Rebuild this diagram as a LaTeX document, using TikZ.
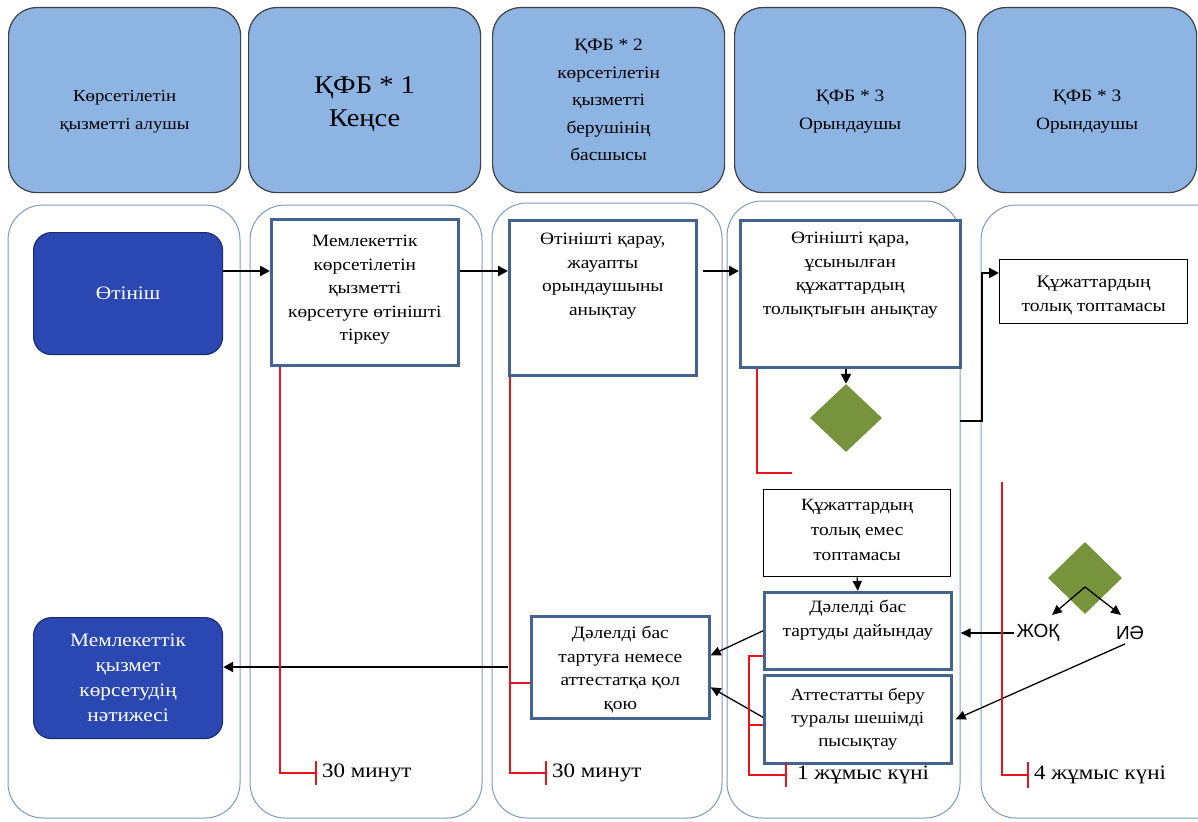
\documentclass[tikz,border=0pt]{standalone}
\usepackage{fontspec}
\setmainfont{Liberation Serif}[FakeStretch=1.12]
\newfontfamily\lsans{Liberation Sans}
\usetikzlibrary{shapes.geometric,arrows.meta}
\definecolor{hdrblue}{HTML}{8EB4E3}
\definecolor{laneblue}{HTML}{7D9AC2}
\definecolor{boxblue}{HTML}{44648F}
\definecolor{navyfill}{HTML}{2B48B2}
\definecolor{navyedge}{HTML}{1C2C6B}
\definecolor{dgreen}{HTML}{77933C}
\definecolor{tred}{HTML}{E8141B}
\tikzset{
  header/.style={draw=black!75, line width=1.2pt, fill=hdrblue, rounded corners=28pt,
    anchor=north west, inner sep=0pt},
  hdrtext/.style={align=center, inner sep=0pt, font=\fontsize{17.3}{27.5}\selectfont},
  lane/.style={draw=laneblue, line width=1pt, rounded corners=35pt},
  procbox/.style={draw=boxblue, line width=2.6pt, fill=white, anchor=north west, inner sep=0pt},
  plainbox/.style={draw=black, line width=1.3pt, fill=white, anchor=north west, inner sep=0pt},
  boxtext/.style={align=center, inner sep=0pt, font=\fontsize{17.3}{23.5}\selectfont},
  startbox/.style={fill=navyfill, draw=navyedge, line width=1.2pt, rounded corners=18pt,
    text=white, anchor=north west, align=center, inner sep=0pt,
    font=\fontsize{19}{25}\selectfont},
  decision/.style={diamond, fill=dgreen, inner sep=0pt},
  flow/.style={-{Triangle[length=10pt,width=10pt]}, line width=2.4pt},
  thinflow/.style={-{Triangle[length=10pt,width=9pt]}, line width=1.3pt},
  tl/.style={draw=tred, line width=2.2pt},
  tltext/.style={anchor=west, inner sep=0pt, font=\fontsize{20.5}{22}\selectfont},
  yn/.style={inner sep=2pt, font=\lsans\fontsize{19}{21}\selectfont}
}
\begin{document}
\begin{tikzpicture}[x=1pt,y=-1pt]
\clip (0,0) rectangle (1198,821);
\fill[white] (0,0) rectangle (1198,821);

% headers
\node[header, minimum width=232pt, minimum height=185pt,
  label={[hdrtext, font=\fontsize{16.8}{28}\selectfont, yshift=-12pt]center:{Көрсетілетін\\қызметті алушы}}]
  (h1) at (8,7) {};
\node[header, minimum width=232pt, minimum height=185pt,
  label={[hdrtext, font=\fontsize{25.5}{33}\selectfont, yshift=-4pt]center:{ҚФБ * 1\\Кеңсе}}]
  (h2) at (248,7) {};
\node[header, minimum width=232pt, minimum height=185pt,
  label={[hdrtext]center:{ҚФБ * 2\\көрсетілетін\\қызметті\\берушінің\\басшысы}}]
  (h3) at (492,7) {};
\node[header, minimum width=231pt, minimum height=185pt,
  label={[hdrtext, font=\fontsize{17.3}{28}\selectfont, yshift=-12pt]center:{ҚФБ * 3\\Орындаушы}}]
  (h4) at (734,7) {};
\node[header, minimum width=219pt, minimum height=185pt,
  label={[hdrtext, font=\fontsize{17.3}{28}\selectfont, yshift=-12pt]center:{ҚФБ * 3\\Орындаушы}}]
  (h5) at (977,7) {};

% lanes
\draw[lane] (8,205) rectangle (240,818);
\draw[lane] (250,205) rectangle (482,818);
\draw[lane] (492,203) rectangle (722,818);
\draw[lane] (727,201) rectangle (960,818);
\draw[lane] (981,205) rectangle (1250,818);

% nodes
\node[startbox, minimum width=189pt, minimum height=122pt] (start) at (33,232) {Өтініш};
\node[startbox, minimum width=189pt, minimum height=121pt] (res) at (33,617)
  {Мемлекеттік\\қызмет\\көрсетудің\\нәтижесі};

\node[procbox, minimum width=187pt, minimum height=146pt,
  label={[boxtext, anchor=north, yshift=-17pt]north:{Мемлекеттік\\көрсетілетін\\қызметті\\көрсетуге өтінішті\\тіркеу}}]
  (A) at (270,218) {};
\node[procbox, minimum width=187pt, minimum height=155pt,
  label={[boxtext, anchor=north, yshift=-14pt]north:{Өтінішті қарау,\\жауапты\\орындаушыны\\анықтау}}]
  (B) at (508,219) {};
\node[procbox, minimum width=220pt, minimum height=147pt,
  label={[boxtext, anchor=north, yshift=-13pt]north:{Өтінішті қара,\\ұсынылған\\құжаттардың\\толықтығын анықтау}}]
  (C) at (739,219) {};
\node[plainbox, minimum width=188pt, minimum height=64pt,
  label={[boxtext, font=\fontsize{17.5}{23.5}\selectfont, yshift=-4pt]center:{Құжаттардың\\толық топтамасы}}]
  (D) at (999,259) {};
\node[decision, minimum width=72pt, minimum height=68pt] (dia1) at (846,418) {};
\node[plainbox, minimum width=187pt, minimum height=87pt,
  label={[boxtext, font=\fontsize{17.2}{25}\selectfont, yshift=3pt]center:{Құжаттардың\\толық емес\\топтамасы}}]
  (E) at (763,489) {};
\node[procbox, minimum width=187pt, minimum height=77pt,
  label={[boxtext, anchor=north, yshift=-9pt]north:{Дәлелді бас\\тартуды дайындау}}]
  (F) at (763,591) {};
\node[procbox, minimum width=187pt, minimum height=88pt,
  label={[boxtext, font=\fontsize{17}{23}\selectfont]center:{Аттестатты беру\\туралы шешімді\\пысықтау}}]
  (G) at (763,674) {};
\node[procbox, minimum width=178pt, minimum height=102pt,
  label={[boxtext, anchor=north, yshift=-11pt]north:{Дәлелді бас\\тартуға немесе\\аттестатқа қол\\қою}}]
  (H) at (530,615) {};
\node[decision, minimum width=74pt, minimum height=72pt] (dia2) at (1085,578) {};
\node[yn] (no) at (1038,633) {ЖОҚ};
\node[yn] (yes) at (1130,633) {ИӘ};

% helper coordinates
\coordinate (y1) at (0,271);
\coordinate (j1) at (960,421);
\coordinate (bend) at (982,273);
\coordinate (j2) at (508,667);

% connectors
\draw[flow] (start.east |- y1) -- (A.west |- y1);
\draw[flow] (A.east |- y1) -- (B.west |- y1);
\draw[flow] ([xshift=5pt]B.east |- y1) -- (C.west |- y1);
\draw[flow] (dia1.north |- C.south) -- (dia1.north);
\draw[flow] (j1) -| (bend) -- (D.west |- bend);
\draw[thinflow] (E.south) -- (F.north);
\draw[thinflow] ([yshift=-9pt]dia2.center) -- (1052,615);
\draw[thinflow] ([yshift=-9pt]dia2.center) -- (1121,615);
\draw[thinflow] (no.west) -- ([xshift=8pt]F.east |- no.west);
\draw[thinflow] ([xshift=-5pt,yshift=-2pt]yes.south) -- ([xshift=3pt]G.east);
\draw[thinflow] (F.west) -- ([yshift=12pt]H.east);
\draw[thinflow] ([yshift=2pt]G.west) -- ([yshift=-20pt]H.east);
\draw[flow] (j2) -- (res.east |- j2);

% time lines
\draw[tl] ([xshift=10pt]A.south west) -- (280,773) -- (316,773);
\draw[tl] (316,761) -- (316,785);
\node[tltext] (t1) at (322,773) {30 минут};

\draw[tl] ([xshift=2pt]B.south west) -- (510,773) -- (546,773);
\draw[tl] (546,761) -- (546,785);
\draw[tl] (510,683) -- (H.west |- 510,683);
\node[tltext] (t2) at (552,773) {30 минут};

\draw[tl] ([xshift=18pt]C.south west) -- (757,473) -- (792,473);

\draw[tl] (763,656) -- (749,656) -- (749,775) -- (786,775);
\draw[tl] (749,725) -- (763,725);
\draw[tl] (786,763) -- (786,787);
\node[tltext] (t3) at (797,775) {1 жұмыс күні};

\draw[tl] (1002,482) -- (1002,775) -- (1028,775);
\draw[tl] (1028,762) -- (1028,788);
\node[tltext] (t4) at (1034,775) {4 жұмыс күні};
\end{tikzpicture}
\end{document}
